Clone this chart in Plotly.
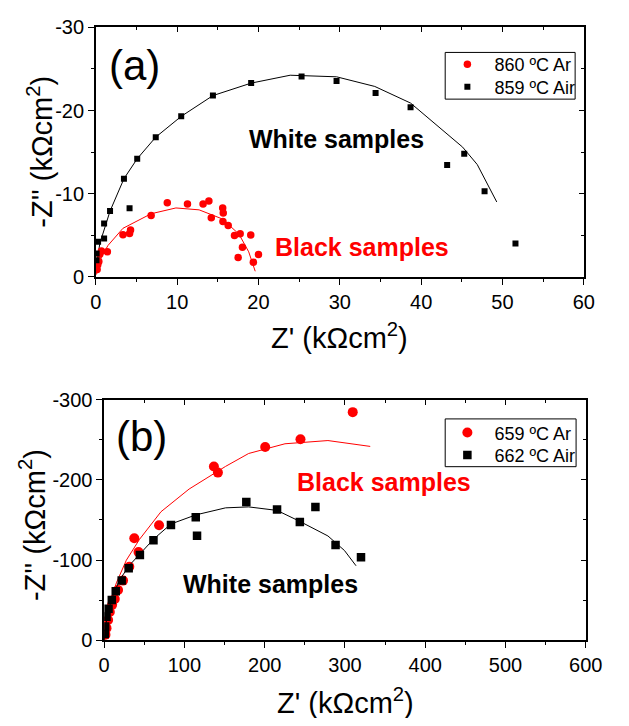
import plotly.graph_objects as go

# ---------------- data: panel (a) ----------------
a_ar_x = [0.16, 0.24, 0.37, 0.49, 0.69, 1.42, 3.34, 4.15, 4.27, 6.8, 8.79, 11.27, 13.19, 13.9, 14.2,
          15.6, 15.67, 15.63, 16.28, 17.05, 17.75, 19.05, 18.03, 17.5, 19.37, 20.0]
a_ar_y = [-0.86, -1.44, -1.83, -2.72, -3.1, -3.0, -5.05, -5.2, -5.64, -7.38, -8.9, -8.74, -8.74, -9.13, -7.1,
          -8.28, -7.66, -6.65, -6.18, -4.97, -5.17, -5.01, -3.54, -2.33, -1.75, -2.68]
a_air_x = [0.08, 0.1, 0.28, 1.02, 1.02, 1.75, 4.15, 3.46, 5.09, 7.37, 10.5, 14.4, 19.1, 25.3, 29.6,
           34.4, 38.7, 43.2, 45.3, 47.8, 51.6]
a_air_y = [-2.0, -2.8, -4.2, -4.6, -6.4, -7.9, -8.24, -11.8, -14.2, -16.8, -19.3, -21.8, -23.3, -24.1, -23.55,
           -22.1, -20.4, -13.45, -14.8, -10.3, -4.0]
a_ar_fit_x = [0.08, 0.69, 1.5, 3.34, 6.8, 9.85, 12.7, 15.55, 17.6, 18.8, 19.6]
a_ar_fit_y = [-0.27, -2.4, -3.77, -5.83, -7.58, -8.28, -8.05, -6.96, -5.13, -3.0, -0.66]
a_air_fit_x = [0, 0.49, 1.75, 3.46, 5.09, 7.37, 10.5, 14.4, 19.1, 23.9, 29.6, 34.3, 38.7, 45.1, 46.9, 49.3]
a_air_fit_y = [-0.86, -4.0, -7.9, -11.8, -14.2, -16.8, -19.3, -21.8, -23.3, -24.25, -24.06, -22.9, -20.9,
               -15.6, -13.5, -9.0]

# ---------------- data: panel (b) ----------------
b_ar_x = [1.6, 2.9, 4.9, 7.0, 9.9, 13.2, 17.3, 23.5, 31.3, 42.8, 37.5, 68.4, 136.7, 141.7, 200.6, 244.6, 309.7]
b_ar_y = [-7.2, -15.3, -25.4, -35.4, -44.3, -51.5, -62.8, -74.5, -91.8, -110, -127.3, -143.4, -216.7, -209.0,
          -240.8, -250.5, -284.3]
b_air_x = [0.8, 1.2, 2.9, 5.4, 9.5, 14.4, 21.8, 30.5, 44.5, 61.4, 83.2, 114.1, 115.7, 177.1, 215.4, 243.8,
           263.2, 288.3, 320]
b_air_y = [-8, -17.3, -29.4, -39.5, -50.3, -61.2, -74.5, -89.8, -106.3, -124.8, -143.8, -153.4, -130.5, -172.4,
           -163.1, -147.4, -166.3, -118.8, -103.5]
b_ar_fit_x = [0, 2.9, 7.0, 15.2, 27.6, 44.1, 70.8, 105.8, 151.2, 180, 225.3, 278.8, 331.5]
b_ar_fit_y = [0, -23.4, -45.5, -71.7, -99.9, -126, -160.3, -188.5, -216.7, -232.8, -244.9, -248.9, -241.6]
b_air_fit_x = [0, 2.9, 9.1, 19.4, 31.7, 44.5, 61.4, 83.2, 114.1, 151.2, 180, 215.4, 243.8, 278.8, 299.4, 313.8]
b_air_fit_y = [0, -25.4, -51.5, -75.7, -93.8, -107.1, -126, -145, -156.3, -165.1, -166.3, -161.9, -148.2,
               -130.1, -112, -93]

# ---------------- tick labels ----------------
a_xticks = [0, 10, 20, 30, 40, 50, 60]
a_yticks = [-30, -20, -10, 0]
a_yticktext = ["-30", "-20", "-10", "0"]
b_xticks = [0, 100, 200, 300, 400, 500, 600]
b_yticks = [-300, -200, -100, 0]
b_yticktext = ["-300", "-200", "-100", "0"]

RED = "#ff0000"
BLK = "#000000"
FONT = "Liberation Sans, Arial, sans-serif"
PAGE_W, PAGE_H = 629, 726
OFF = 8  # default body margin of the html page
W, H = PAGE_W - 2 * OFF, PAGE_H - 2 * OFF


def px(X):
    return (X - OFF) / W


def py(Y):
    return 1 - (Y - OFF) / H


fig = go.Figure()

fig.add_trace(go.Scatter(x=a_ar_fit_x, y=a_ar_fit_y, mode="lines", line=dict(color=RED, width=1),
                         showlegend=False, xaxis="x", yaxis="y"))
fig.add_trace(go.Scatter(x=a_air_fit_x, y=a_air_fit_y, mode="lines", line=dict(color=BLK, width=1),
                         showlegend=False, xaxis="x", yaxis="y"))
fig.add_trace(go.Scatter(x=a_ar_x, y=a_ar_y, mode="markers", name="860 ºC Ar",
                         marker=dict(symbol="circle", size=7.5, color=RED), xaxis="x", yaxis="y",
                         legend="legend"))
fig.add_trace(go.Scatter(x=a_air_x, y=a_air_y, mode="markers", name="859 ºC Air",
                         marker=dict(symbol="square", size=6, color=BLK), xaxis="x", yaxis="y",
                         legend="legend3"))

fig.add_trace(go.Scatter(x=b_ar_fit_x, y=b_ar_fit_y, mode="lines", line=dict(color=RED, width=1),
                         showlegend=False, xaxis="x2", yaxis="y2"))
fig.add_trace(go.Scatter(x=b_ar_x, y=b_ar_y, mode="markers", name="659 ºC Ar",
                         marker=dict(symbol="circle", size=10, color=RED), xaxis="x2", yaxis="y2",
                         legend="legend2"))
fig.add_trace(go.Scatter(x=b_air_fit_x, y=b_air_fit_y, mode="lines", line=dict(color=BLK, width=1),
                         showlegend=False, xaxis="x2", yaxis="y2"))
fig.add_trace(go.Scatter(x=b_air_x, y=b_air_y, mode="markers", name="662 ºC Air",
                         marker=dict(symbol="square", size=8.5, color=BLK), xaxis="x2", yaxis="y2",
                         legend="legend4"))

fig.add_trace(go.Scatter(x=[], y=[], xaxis="x3", yaxis="y3", showlegend=False))
fig.add_trace(go.Scatter(x=[], y=[], xaxis="x4", yaxis="y4", showlegend=False))

ax_dom_a = [px(93), px(600)]
ay_dom_a = [py(274), py(16.7)]
bx_dom_b = [px(101.7), px(602)]
by_dom_b = [py(649.3), py(400.7)]

tickfont = dict(family=FONT, size=20, color="black")
common = dict(showgrid=False, zeroline=False, showline=True, linecolor="black", linewidth=1.5,
              mirror=True, ticks="outside", ticklen=6, tickwidth=1.2, tickcolor="black",
              tickfont=tickfont)
inner = dict(showgrid=False, zeroline=False, showline=False, ticks="inside", ticklen=5, tickwidth=1.2,
             tickcolor="black", showticklabels=False)


def leg(Y):
    return dict(x=px(451), y=py(Y), xanchor="left", yanchor="middle", bgcolor="rgba(0,0,0,0)",
                borderwidth=0, font=dict(family=FONT, size=18, color="black"), itemsizing="trace",
                itemwidth=44)


fig.update_layout(
    width=W, height=H, margin=dict(l=0, r=0, t=0, b=0),
    plot_bgcolor="white", paper_bgcolor="white",
    font=dict(family=FONT, color="black"),
    xaxis=dict(domain=ax_dom_a, range=[0, 60], tickvals=a_xticks, anchor="y",
               minor=dict(ticks="outside", ticklen=3, dtick=5, tickcolor="black", tickwidth=1.2), **common),
    yaxis=dict(domain=ay_dom_a, range=[0, -30], tickvals=a_yticks, ticktext=a_yticktext, anchor="x",
               minor=dict(ticks="outside", ticklen=3, dtick=5, tickcolor="black", tickwidth=1.2), **common),
    xaxis3=dict(domain=ax_dom_a, range=[0, 60], overlaying="x", side="top", anchor="y3",
                tickvals=a_xticks,
                minor=dict(ticks="inside", ticklen=3, dtick=5, tickcolor="black", tickwidth=1.2), **inner),
    yaxis3=dict(domain=ay_dom_a, range=[0, -30], overlaying="y", side="right", anchor="x3",
                tickvals=a_yticks,
                minor=dict(ticks="inside", ticklen=3, dtick=5, tickcolor="black", tickwidth=1.2), **inner),
    xaxis2=dict(domain=bx_dom_b, range=[0, 600], tickvals=b_xticks, anchor="y2",
                minor=dict(ticks="outside", ticklen=3, dtick=50, tickcolor="black", tickwidth=1.2), **common),
    yaxis2=dict(domain=by_dom_b, range=[0, -300], tickvals=b_yticks, ticktext=b_yticktext, anchor="x2",
                minor=dict(ticks="outside", ticklen=3, dtick=50, tickcolor="black", tickwidth=1.2), **common),
    xaxis4=dict(domain=bx_dom_b, range=[0, 600], overlaying="x2", side="top", anchor="y4",
                tickvals=b_xticks,
                minor=dict(ticks="inside", ticklen=3, dtick=50, tickcolor="black", tickwidth=1.2), **inner),
    yaxis4=dict(domain=by_dom_b, range=[0, -300], overlaying="y2", side="right", anchor="x4",
                tickvals=b_yticks,
                minor=dict(ticks="inside", ticklen=3, dtick=50, tickcolor="black", tickwidth=1.2), **inner),
    legend=leg(55),
    legend3=leg(78.3),
    legend2=leg(435),
    legend4=leg(458.3),
)

shapes = [
    dict(type="rect", xref="paper", yref="paper", x0=px(456), x1=px(591), y0=py(90.7), y1=py(42.5),
         line=dict(color="black", width=1), fillcolor="rgba(0,0,0,0)", layer="above"),
    dict(type="rect", xref="paper", yref="paper", x0=px(456), x1=px(592), y0=py(470), y1=py(420.7),
         line=dict(color="black", width=1), fillcolor="rgba(0,0,0,0)", layer="above"),
]
fig.update_layout(shapes=shapes)

TF = 29
ann = []
ann.append(dict(text="Z' (kΩcm<sup>2</sup>)", x=px(346.5), y=py(335), xref="paper", yref="paper",
                showarrow=False, font=dict(family=FONT, size=TF, color="black"), xanchor="center", yanchor="middle"))
ann.append(dict(text="-Z'' (kΩcm<sup>2</sup>)", x=px(35), y=py(145), xref="paper", yref="paper",
                showarrow=False, textangle=-90, font=dict(family=FONT, size=TF, color="black"),
                xanchor="center", yanchor="middle"))
ann.append(dict(text="Z' (kΩcm<sup>2</sup>)", x=px(352), y=py(712), xref="paper", yref="paper",
                showarrow=False, font=dict(family=FONT, size=TF, color="black"), xanchor="center", yanchor="middle"))
ann.append(dict(text="-Z'' (kΩcm<sup>2</sup>)", x=px(27), y=py(530), xref="paper", yref="paper",
                showarrow=False, textangle=-90, font=dict(family=FONT, size=TF, color="black"),
                xanchor="center", yanchor="middle"))
ann.append(dict(text="(a)", x=px(105), y=py(56), xref="paper", yref="paper", showarrow=False,
                font=dict(family=FONT, size=42, color="black"), xanchor="left", yanchor="middle"))
ann.append(dict(text="(b)", x=px(112), y=py(439), xref="paper", yref="paper", showarrow=False,
                font=dict(family=FONT, size=42, color="black"), xanchor="left", yanchor="middle"))
ann.append(dict(text="<b>White samples</b>", x=29.55, y=-16.55, xref="x", yref="y", showarrow=False,
                font=dict(family=FONT, size=25, color="black"), xanchor="center", yanchor="middle"))
ann.append(dict(text="<b>Black samples</b>", x=32.7, y=-3.58, xref="x", yref="y", showarrow=False,
                font=dict(family=FONT, size=25, color=RED), xanchor="center", yanchor="middle"))
ann.append(dict(text="<b>Black samples</b>", x=348.4, y=-197.3, xref="x2", yref="y2", showarrow=False,
                font=dict(family=FONT, size=25, color=RED), xanchor="center", yanchor="middle"))
ann.append(dict(text="<b>White samples</b>", x=207.6, y=-69.7, xref="x2", yref="y2", showarrow=False,
                font=dict(family=FONT, size=25, color="black"), xanchor="center", yanchor="middle"))
fig.update_layout(annotations=ann)

fig.write_html("out.html")
